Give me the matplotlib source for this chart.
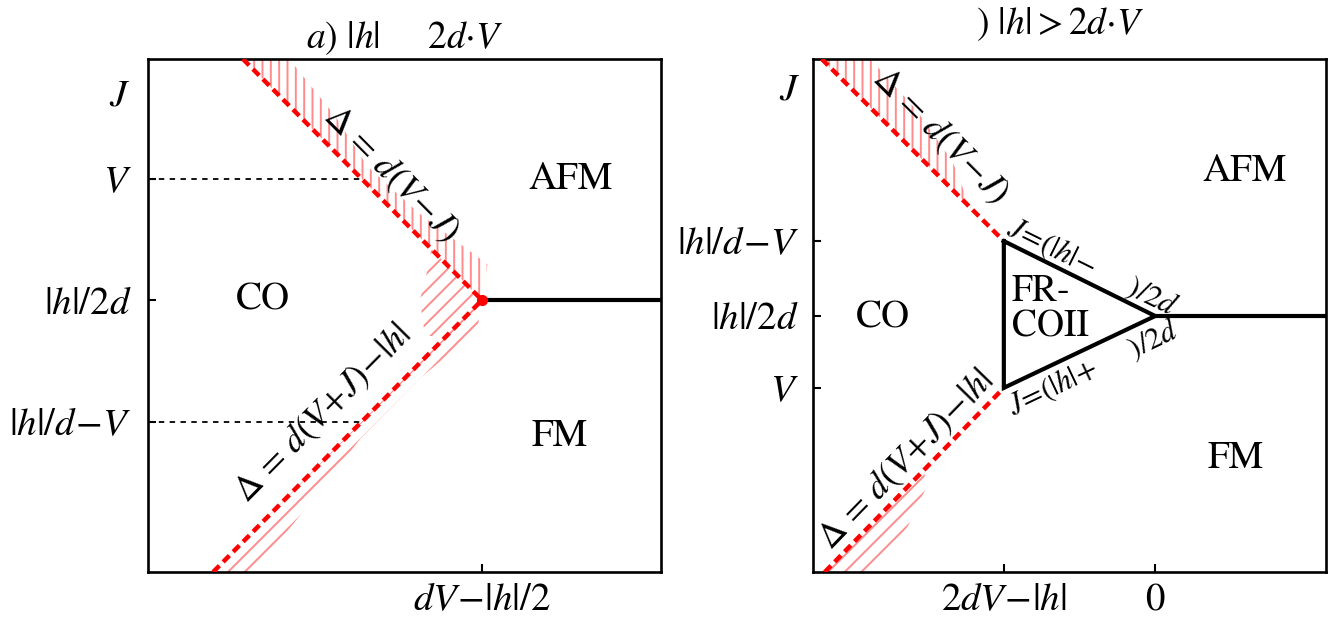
import numpy as np
import matplotlib
matplotlib.use("Agg")
import matplotlib.pyplot as plt
from matplotlib.patches import Polygon

plt.rcParams['mathtext.fontset'] = 'stix'
plt.rcParams['font.family'] = ['STIXGeneral', 'Liberation Serif', 'DejaVu Serif']
plt.rcParams['hatch.linewidth'] = 1.4

# ---------------- data (schematic units, axes span 0..10) ----------------
# left panel a) |h| <= 2dV
L_VERTEX = (6.51, 5.30)
L_UPPER_TOP = (1.85, 10.0)
L_LOWER_BOTTOM = (1.27, 0.0)
L_YTICKS = [7.66, 5.30, 2.92]
L_YLABELS = [r"$V$", r"$|h|/2d$", r"$|h|/d\!-\!V$"]
L_XTICKS = [6.51]
L_XLABELS = [r"$dV\!-\!|h|/2$"]
L_GUIDE_Y = [7.66, 2.92]
# hatch bands: y samples and horizontal widths to the right of the boundary
L_UP_HATCH_Y = [10.0, 8.9, 7.9, 7.0, 6.0, 5.3]
L_UP_HATCH_W = [0.9, 0.7, 0.35, 0.45, 0.8, 0.0]
L_LO_HATCH_Y = [0.0, 1.4, 2.6, 3.8, 4.7, 5.3]
L_LO_HATCH_W = [0.8, 0.55, 0.3, 0.3, 0.5, 0.0]

# right panel |h| > 2dV
R_TRI_X = [3.72, 3.72, 6.67]
R_TRI_Y = [6.45, 3.59, 4.99]
R_UPPER_TOP = (0.17, 10.0)
R_LOWER_BOTTOM = (0.23, 0.0)
R_YTICKS = [6.45, 4.99, 3.59]
R_YLABELS = [r"$|h|/d\!-\!V$", r"$|h|/2d$", r"$V$"]
R_XTICKS = [3.72, 6.67]
R_XLABELS = [r"$2dV\!-\!|h|$", r"$0$"]
R_UP_HATCH_Y = [10.0, 9.0, 8.0, 7.1]
R_UP_HATCH_W = [0.95, 0.85, 0.55, 0.0]
R_LO_HATCH_Y = [0.0, 0.9, 1.6, 2.0]
R_LO_HATCH_W = [0.95, 0.75, 0.4, 0.0]

RED = '#ff0000'
HATCH_RED = (1.0, 0.4, 0.4, 0.75)

fig = plt.figure(figsize=(13.43, 6.24), dpi=100)
axL = fig.add_axes([148/1343, 52/624, 513/1343, 513/624])
axR = fig.add_axes([813/1343, 52/624, 513/1343, 513/624])


def line_x(p0, p1, y):
    return p0[0] + (y - p0[1]) * (p1[0] - p0[0]) / (p1[1] - p0[1])


def hatch_band(ax, p0, p1, ys, ws, hatch):
    xs_line = [line_x(p0, p1, y) for y in ys]
    right = [(x + w, y) for x, y, w in zip(xs_line, ys, ws)]
    left = [(x, y) for x, y in zip(xs_line, ys)][::-1]
    poly = Polygon(right + left, closed=True, facecolor='none',
                   edgecolor=HATCH_RED, linewidth=0, hatch=hatch, zorder=1)
    ax.add_patch(poly)


def style(ax, yt, yl, xt, xl):
    ax.set_xlim(0, 10)
    ax.set_ylim(0, 10)
    ax.set_yticks(yt)
    ax.set_yticklabels(yl, fontsize=28)
    ax.set_xticks(xt)
    ax.set_xticklabels(xl, fontsize=28)
    ax.tick_params(direction='in', length=6, width=1.5)
    ax.tick_params(axis='y', pad=12)
    ax.tick_params(axis='x', pad=8)
    for s in ax.spines.values():
        s.set_linewidth(1.9)


def angle(p0, p1):
    return np.degrees(np.arctan2(p1[1] - p0[1], p1[0] - p0[0]))


dash = (0, (2.0, 1.2))

# ---------------- left panel ----------------
ax = axL
style(ax, L_YTICKS, L_YLABELS, L_XTICKS, L_XLABELS)
hatch_band(ax, L_UPPER_TOP, L_VERTEX, L_UP_HATCH_Y, L_UP_HATCH_W, '||')
hatch_band(ax, L_LOWER_BOTTOM, L_VERTEX, L_LO_HATCH_Y, L_LO_HATCH_W, '//')
# small hatched patch left of the vertex
vx = [line_x(L_UPPER_TOP, L_VERTEX, 6.3), 5.5, 5.3, 5.4, line_x(L_LOWER_BOTTOM, L_VERTEX, 4.6), L_VERTEX[0]]
vy = [6.3, 6.1, 5.3, 4.6, 4.6, L_VERTEX[1]]
ax.add_patch(Polygon(list(zip(vx, vy)), closed=True, facecolor='none',
                     edgecolor=HATCH_RED, linewidth=0, hatch='//', zorder=1))
ax.plot([L_UPPER_TOP[0], L_VERTEX[0]], [L_UPPER_TOP[1], L_VERTEX[1]],
        color=RED, lw=3.2, linestyle=dash, zorder=3)
ax.plot([L_LOWER_BOTTOM[0], L_VERTEX[0]], [L_LOWER_BOTTOM[1], L_VERTEX[1]],
        color=RED, lw=3.2, linestyle=dash, zorder=3)
ax.plot([L_VERTEX[0], 10], [L_VERTEX[1], L_VERTEX[1]], color='black', lw=3, zorder=3)
ax.plot([L_VERTEX[0]], [L_VERTEX[1]], 'o', color=RED, ms=7, zorder=4)
for gy in L_GUIDE_Y:
    p0, p1 = (L_UPPER_TOP, L_VERTEX) if gy > L_VERTEX[1] else (L_LOWER_BOTTOM, L_VERTEX)
    ax.plot([0, line_x(p0, p1, gy)], [gy, gy], color='black', lw=1.3,
            linestyle=(0, (3, 3)), zorder=2)
ax.text(8.23, 7.64, "AFM", fontsize=28, ha='center', va='center')
ax.text(2.24, 5.30, "CO", fontsize=28, ha='center', va='center')
ax.text(8.03, 2.63, "FM", fontsize=28, ha='center', va='center')
ax.text(4.74, 7.76, r"$\Delta\,=\,d(V\!-\!J)$", fontsize=26, ha='center', va='center',
        rotation=angle(L_UPPER_TOP, L_VERTEX), rotation_mode='anchor')
ax.text(3.40, 3.08, r"$\Delta\,=\,d(V\!+\!J)\!-\!|h|$", fontsize=26, ha='center', va='center',
        rotation=angle(L_LOWER_BOTTOM, L_VERTEX), rotation_mode='anchor')
ax.text(-0.35, 9.28, r"$J$", fontsize=28, ha='right', va='center', clip_on=False)
ax.set_title(r"$a$) $|h|$     $2d{\cdot}V$", fontsize=27, pad=8)

# ---------------- right panel ----------------
ax = axR
style(ax, R_YTICKS, R_YLABELS, R_XTICKS, R_XLABELS)
ax.tick_params(axis='y', pad=10)
top_v = (R_TRI_X[0], R_TRI_Y[0])
bot_v = (R_TRI_X[1], R_TRI_Y[1])
apex = (R_TRI_X[2], R_TRI_Y[2])
hatch_band(ax, R_UPPER_TOP, top_v, R_UP_HATCH_Y, R_UP_HATCH_W, '||')
hatch_band(ax, R_LOWER_BOTTOM, bot_v, R_LO_HATCH_Y, R_LO_HATCH_W, '//')
ax.plot([R_UPPER_TOP[0], top_v[0]], [R_UPPER_TOP[1], top_v[1]],
        color=RED, lw=3.2, linestyle=dash, zorder=3)
ax.plot([R_LOWER_BOTTOM[0], bot_v[0]], [R_LOWER_BOTTOM[1], bot_v[1]],
        color=RED, lw=3.2, linestyle=dash, zorder=3)
ax.plot(R_TRI_X + [R_TRI_X[0]], R_TRI_Y + [R_TRI_Y[0]], color='black', lw=3,
        solid_joinstyle='miter', zorder=3)
ax.plot([apex[0], 10], [apex[1], apex[1]], color='black', lw=3, zorder=3)
ax.text(8.42, 7.80, "AFM", fontsize=28, ha='center', va='center')
ax.text(1.36, 4.95, "CO", fontsize=28, ha='center', va='center')
ax.text(8.23, 2.22, "FM", fontsize=28, ha='center', va='center')
ax.text(3.88, 5.12, "FR-\nCOII", fontsize=27, ha='left', va='center', linespacing=1.0)
ax.text(2.48, 8.50, r"$\Delta\,=\,d(V\!-\!J)$", fontsize=26, ha='center', va='center',
        rotation=angle(R_UPPER_TOP, top_v), rotation_mode='anchor')
ax.text(1.82, 2.18, r"$\Delta\,=\,d(V\!+\!J)\!-\!|h|$", fontsize=26, ha='center', va='center',
        rotation=angle(R_LOWER_BOTTOM, bot_v), rotation_mode='anchor')
ax.text(5.44, 5.95, r"$J\!=\!(|h|\!-\quad\;\;)/2d$", fontsize=22, ha='center', va='center',
        rotation=angle(top_v, apex), rotation_mode='anchor')
ax.text(5.46, 3.98, r"$J\!=\!(|h|\!+\quad\;\;)/2d$", fontsize=22, ha='center', va='center',
        rotation=angle(bot_v, apex), rotation_mode='anchor')
ax.text(-0.25, 9.40, r"$J$", fontsize=28, ha='right', va='center', clip_on=False)
fig.text(1060/1343, 1 - 24/624, r") $|h|>2d{\cdot}V$", fontsize=27, ha='center', va='center')

fig.savefig("out.png", dpi=100)
